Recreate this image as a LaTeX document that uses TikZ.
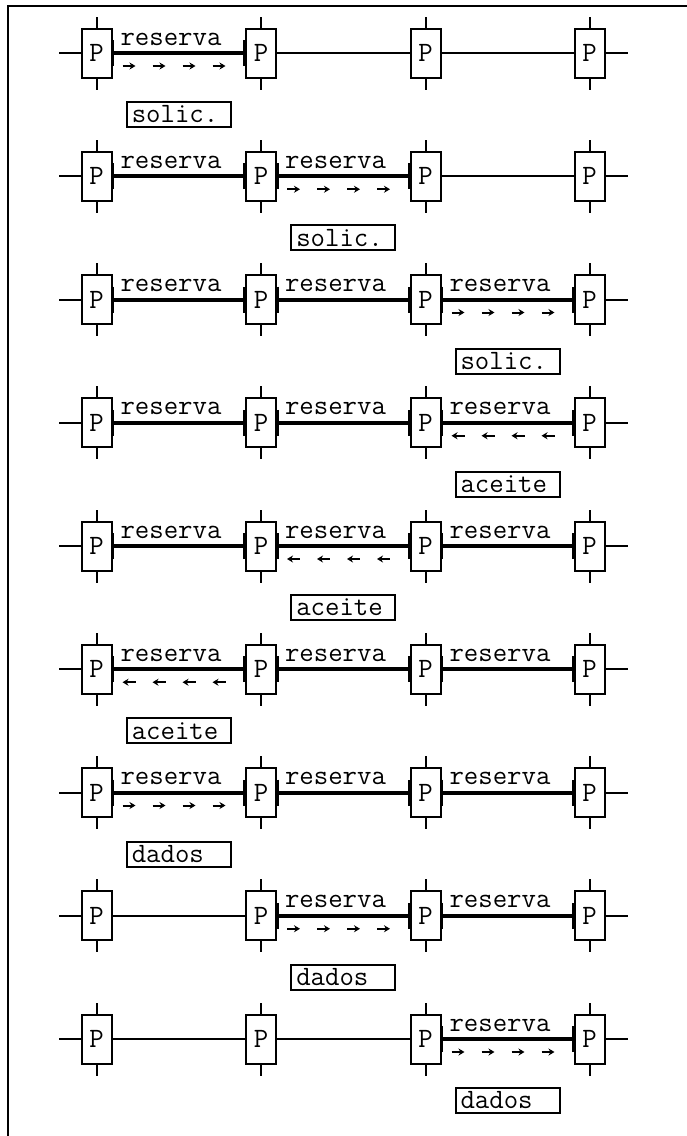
\documentclass[tikz,border=0pt]{standalone}
\usepackage{fontspec}
\usepackage{tikz}
\usetikzlibrary{arrows.meta,positioning,calc}

\begin{document}
\begin{tikzpicture}[
    x=1pt, y=-1pt,
    font=\ttfamily\fontsize{28}{30}\selectfont,
    pbox/.style={
        draw,
        fill=white,
        line width=2pt,
        minimum width=30pt,
        minimum height=49pt,
        inner sep=0pt
    },
    wire/.style={line width=2pt},
    resline/.style={line width=4pt},
    tick/.style={line width=3.6pt},
    restext/.style={anchor=base west, xshift=6pt, yshift=8pt, inner sep=0pt},
    msgbox/.style={
        draw,
        line width=2pt,
        minimum width=104pt,
        minimum height=25pt,
        text width=94pt,
        align=left,
        inner xsep=5pt,
        inner ysep=0pt
    },
    fwd/.style={-{Stealth[length=6pt,width=7pt]}, line width=2pt},
    bwd/.style={{Stealth[length=6pt,width=7pt]}-, line width=2pt}
]
\useasboundingbox (0,0) rectangle (686,1136);
\draw[line width=2.4pt] (8,1140) |- (690,6);

% processadores
\foreach \r in {1,...,9}
  \foreach \c/\x in {1/96.5, 2/261, 3/425.5, 4/589.5}
    \node[pbox] (p\r\c) at (\x,{53+123.25*(\r-1)}) {P};

% ligacoes livres
\foreach \r in {1,...,9} {
  \draw[wire] (p\r1.west) -- ++(-22,0);
  \draw[wire] (p\r4.east) -- ++(22,0);
  \foreach \c [count=\d from 2] in {1,2,3}
    \draw[wire] (p\r\c) -- (p\r\d);
  \foreach \c in {1,...,4} {
    \draw[wire] (p\r\c.north) -- ++(0,-11);
    \draw[wire] (p\r\c.south) -- ++(0,11);
  }
}

% trechos reservados
\foreach \r/\c in {1/1, 2/1, 2/2, 3/1, 3/2, 3/3, 4/1, 4/2, 4/3, 5/1, 5/2, 5/3,
                   6/1, 6/2, 6/3, 7/1, 7/2, 7/3, 8/2, 8/3, 9/3} {
  \pgfmathtruncatemacro{\d}{\c+1}
  \draw[resline] (p\r\c.east) -- node[restext, pos=0] {reserva} (p\r\d.west);
  \draw[tick] ([yshift=13pt]p\r\c.east) -- ([yshift=-13pt]p\r\c.east);
  \draw[tick] ([yshift=13pt]p\r\d.west) -- ([yshift=-13pt]p\r\d.west);
}

% mensagens
\foreach \r/\c/\dir/\msg in {1/1/fwd/solic., 2/2/fwd/solic., 3/3/fwd/solic.,
                             4/3/bwd/aceite, 5/2/bwd/aceite, 6/1/bwd/aceite,
                             7/1/fwd/dados, 8/2/fwd/dados, 9/3/fwd/dados} {
  \pgfmathtruncatemacro{\d}{\c+1}
  \foreach \k in {0,...,3}
    \draw[\dir] ($(p\r\c.east)+(\k*30+10,13)$) -- ++(13,0);
  \node[msgbox] (m\r) at ($(p\r\c.east)!0.5!(p\r\d.west)+(0,61.5)$) {\msg};
}
\end{tikzpicture}
\end{document}
